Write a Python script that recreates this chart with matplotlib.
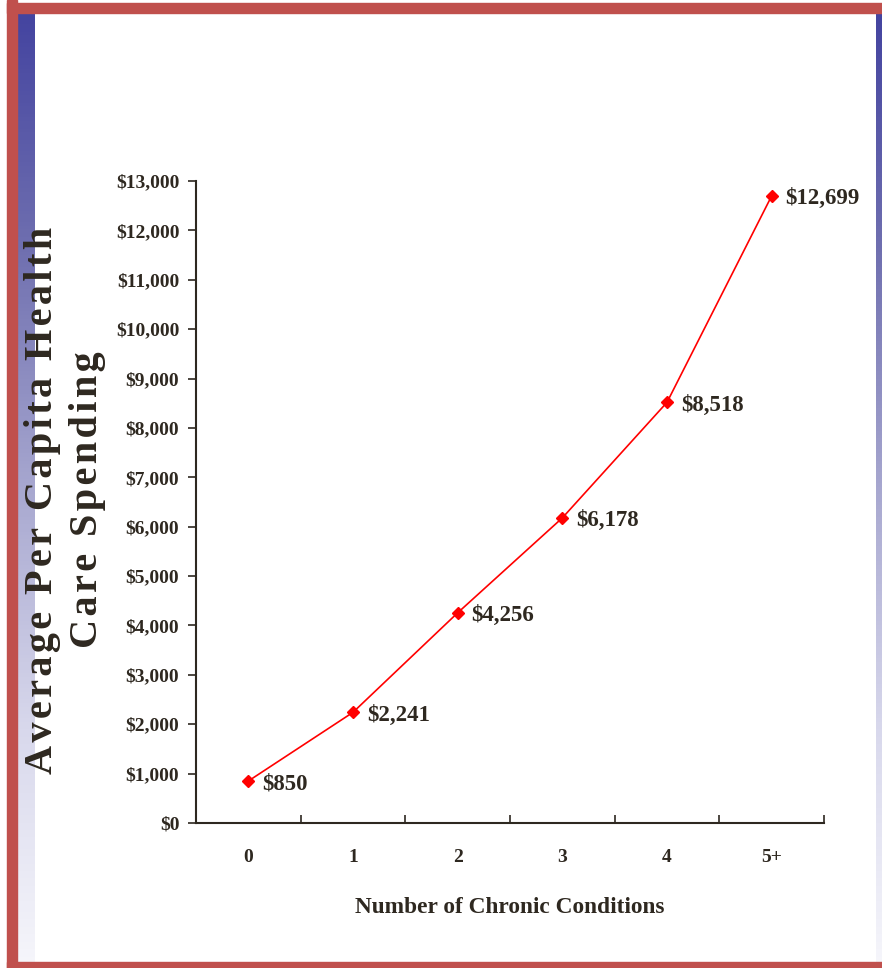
import numpy as np
import matplotlib.pyplot as plt
from matplotlib.colors import LinearSegmentedColormap

categories = ["0", "1", "2", "3", "4", "5+"]
spending = [850, 2241, 4256, 6178, 8518, 12699]
labels = ["$850", "$2,241", "$4,256", "$6,178", "$8,518", "$12,699"]
yticks = list(range(0, 13001, 1000))
ylabel_lines = ["Average Per Capita Health", "Care Spending"]

W, H = 882, 968
txt = "#2e2820"
serif = ["Liberation Serif", "DejaVu Serif"]

fig = plt.figure(figsize=(W / 100, H / 100), dpi=100)
fig.patch.set_facecolor("white")

# blue gradient strips (left and right)
cmap = LinearSegmentedColormap.from_list(
    "strip", ["#4444a0", "#7070b0", "#a8a8d0", "#d8d8ec", "#f6f6fb"]
)
grad = np.linspace(0, 1, 256).reshape(-1, 1)
for x0, x1 in [(17, 35), (876, 882)]:
    sax = fig.add_axes([x0 / W, 0 / H, (x1 - x0) / W, (H - 13) / H])
    sax.imshow(grad, aspect="auto", cmap=cmap)
    sax.axis("off")

# red frame
red = "#c0504d"
fig.patches.append(plt.Rectangle((7 / W, 0), 10 / W, 1, transform=fig.transFigure, color=red, zorder=5))
fig.patches.append(plt.Rectangle((7 / W, 1 - 13 / H), 1, 10 / H, transform=fig.transFigure, color=red, zorder=5))
fig.patches.append(plt.Rectangle((7 / W, 0), 1, 6 / H, transform=fig.transFigure, color=red, zorder=5))

ax = fig.add_axes([196 / W, 1 - 823 / H, (824 - 196) / W, (823 - 181) / H])
x = np.arange(len(categories))
ax.plot(x, spending, color="#ff0000", lw=1.2, marker="D", ms=6, mec="#ff0000", mfc="#ff0000")
for xi, yi, lab in zip(x, spending, labels):
    ax.annotate(lab, (xi, yi), xytext=(10, -2), textcoords="offset points",
                ha="left", va="center", fontsize=16.5, fontweight="bold",
                family=serif, color=txt)

ax.set_xlim(-0.5, len(categories) - 0.5)
ax.set_ylim(0, 13000)
ax.set_yticks(yticks)
ax.set_yticklabels([f"${v:,}" for v in yticks], fontsize=14, fontweight="bold", family=serif, color=txt)
ax.set_xticks(np.arange(-0.5, len(categories), 1))
ax.set_xticklabels([])
ax.set_xticks(x, minor=True)
ax.set_xticklabels(categories, minor=True, fontsize=14, fontweight="bold", family=serif, color=txt)
ax.tick_params(axis="x", which="major", direction="in", length=6, color=txt, width=1.2)
ax.tick_params(axis="x", which="minor", length=0, pad=19)
ax.tick_params(axis="y", direction="out", length=6, color=txt, width=1.2, pad=6)
for s in ["top", "right"]:
    ax.spines[s].set_visible(False)
for s in ["left", "bottom"]:
    ax.spines[s].set_color(txt)
    ax.spines[s].set_linewidth(1.5)

ax.set_xlabel("Number of Chronic Conditions", fontsize=16.8, fontweight="bold",
              family=serif, color=txt, labelpad=22)

# spaced-out y label, as in the original slide
spaced = "\n".join("\u200a".join(line) for line in ylabel_lines)
fig.text(65 / W, 1 - 500 / H, spaced,
         rotation=90, ha="center", va="center", fontsize=29, fontweight="bold",
         family=serif, color=txt, linespacing=1.3)

fig.savefig("out.png", dpi=100)
